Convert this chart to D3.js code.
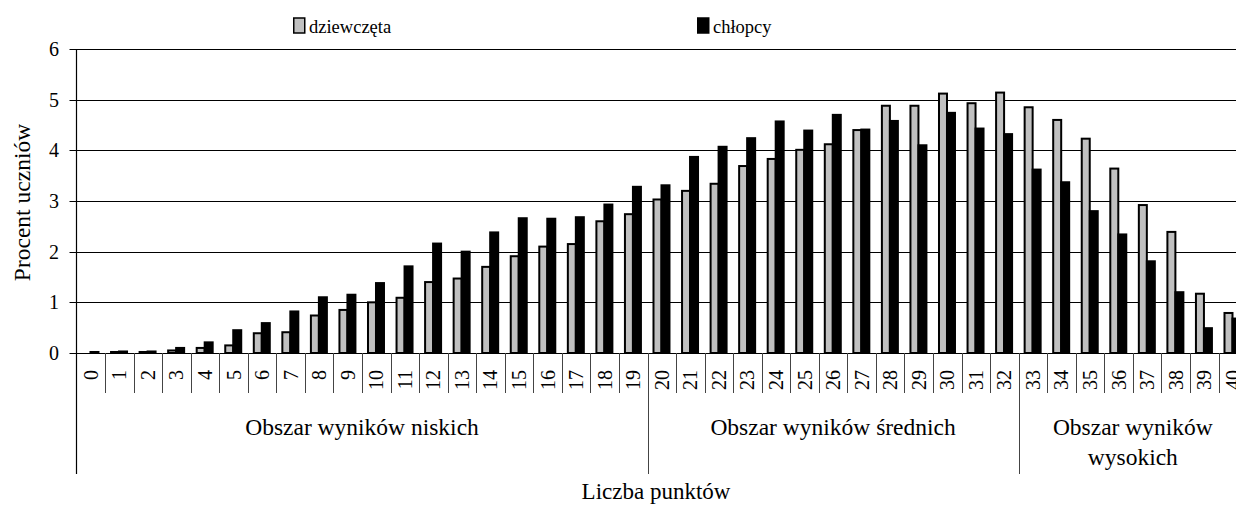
<!DOCTYPE html>
<html><head><meta charset="utf-8">
<script src="https://cdn.jsdelivr.net/npm/d3@7"></script>
</head>
<body style="margin:0;background:#fff">
<svg id="chart" width="1236" height="505" style="display:block"></svg>
<script>
const categories = d3.range(0, 41).map(String);
const seriesNames = ["dziewczęta", "chłopcy"];
const girls = [0.0,0.02,0.02,0.05,0.10,0.15,0.39,0.41,0.74,0.85,1.00,1.09,1.40,1.47,1.70,1.91,2.10,2.15,2.60,2.74,3.03,3.20,3.34,3.69,3.83,4.01,4.12,4.40,4.88,4.88,5.12,4.93,5.14,4.85,4.60,4.23,3.64,2.92,2.39,1.17,0.79];
const boys  = [0.02,0.03,0.03,0.10,0.21,0.45,0.59,0.82,1.10,1.15,1.38,1.71,2.16,2.00,2.38,2.66,2.65,2.68,2.93,3.28,3.31,3.87,4.07,4.24,4.57,4.39,4.70,4.41,4.58,4.10,4.74,4.43,4.32,3.62,3.37,2.80,2.34,1.81,1.20,0.49,0.68];
const yTicks = [0,1,2,3,4,5,6];
const groups = [
  {label:["Obszar wyników niskich"], from:0, to:19},
  {label:["Obszar wyników średnich"], from:20, to:32},
  {label:["Obszar wyników","wysokich"], from:33, to:40}
];
const yTitle = "Procent uczniów";
const xTitle = "Liczba punktów";
const colors = ["#c0c0c0", "#000000"];

(function(){
const FONT = '"Liberation Serif", monospace';
const ctx = document.createElement("canvas").getContext("2d");
[18.5, 20, 23, 23.5].forEach(s => { ctx.font = `${s}px "Liberation Serif", monospace`; ctx.measureText("Obszar wyników 0123456789 dziewczęta chłopcy"); });

const svg = d3.select("#chart");
const T = (sel) => sel.style("font-family", FONT).attr("fill", "#000");
const pLeft = 76.5, step = 28.55, pTop = 49, pBottom = 353;
const x = d3.scaleBand().domain(categories).range([pLeft, pLeft + step*categories.length]).padding(0);
const xs = d3.scaleBand().domain(seriesNames).range([x.bandwidth()*0.21, x.bandwidth()*0.77]).padding(0);
const y = d3.scaleLinear().domain([0, 6]).range([pBottom, pTop]);

svg.append("g").selectAll("line").data(yTicks.filter(d=>d>0)).join("line")
  .attr("x1", pLeft-7).attr("x2", 1236)
  .attr("y1", d=>Math.round(y(d))+0.5).attr("y2", d=>Math.round(y(d))+0.5)
  .attr("stroke", "#000").attr("stroke-width", 1);

T(svg.append("g").selectAll("text").data(yTicks).join("text")
  .attr("x", 59).attr("y", d=>y(d)).attr("dy", "0.35em")
  .attr("text-anchor", "end").attr("font-size", 20).text(d=>d));

const series = [girls, boys];
series.forEach((vals, si) => {
  svg.append("g").selectAll("rect").data(vals).join("rect")
    .attr("x", (d,i)=>x(categories[i]) + xs(seriesNames[si]))
    .attr("width", xs.bandwidth())
    .attr("y", d=>y(d))
    .attr("height", d=>Math.max(0, pBottom - y(d)))
    .attr("fill", colors[si]).attr("stroke", "#000").attr("stroke-width", 2);
});

svg.append("line").attr("x1", pLeft-7).attr("x2", 1236).attr("y1", Math.round(pBottom)+0.5).attr("y2", Math.round(pBottom)+0.5)
  .attr("stroke", "#000").attr("stroke-width", 1.2);

svg.append("line").attr("x1", pLeft).attr("x2", pLeft).attr("y1", pTop).attr("y2", 474)
  .attr("stroke", "#000").attr("stroke-width", 1.2);

svg.append("g").selectAll("line").data(categories.slice(1)).join("line")
  .attr("x1", d=>Math.round(x(d))+0.5).attr("x2", d=>Math.round(x(d))+0.5)
  .attr("y1", pBottom).attr("y2", 393)
  .attr("stroke", "#444").attr("stroke-width", 1);

T(svg.append("g").selectAll("text").data(categories).join("text")
  .attr("transform", d=>`translate(${x(d)+x.bandwidth()/2},370) rotate(-90)`)
  .attr("dy", "0.35em").attr("text-anchor", "end").attr("font-size", 20).text(d=>d));

svg.append("g").selectAll("line").data(groups.slice(1)).join("line")
  .attr("x1", d=>Math.round(x(categories[d.from]))+0.5).attr("x2", d=>Math.round(x(categories[d.from]))+0.5)
  .attr("y1", pBottom).attr("y2", 474)
  .attr("stroke", "#444").attr("stroke-width", 1);

groups.forEach(g => {
  const cx = (x(categories[g.from]) + x(categories[g.to]) + x.bandwidth())/2;
  g.label.forEach((line, li) => {
    T(svg.append("text").attr("x", cx).attr("y", 435 + li*30)
      .attr("text-anchor", "middle").attr("font-size", 23.5).text(line));
  });
});

T(svg.append("text").attr("x", 656).attr("y", 499).attr("text-anchor", "middle").attr("font-size", 23).text(xTitle));
T(svg.append("text").attr("transform", "translate(30,202.5) rotate(-90)").attr("text-anchor", "middle").attr("font-size", 23.5).text(yTitle));

const legendX = [293, 697];
seriesNames.forEach((name, i) => {
  svg.append("rect").attr("x", legendX[i]+0.75).attr("y", 18).attr("width", 11).attr("height", 15)
    .attr("fill", colors[i]).attr("stroke", "#000").attr("stroke-width", 1.5);
  T(svg.append("text").attr("x", legendX[i]+16).attr("y", 33).attr("font-size", 18.5).text(name));
});
})();
</script>
</body></html>
